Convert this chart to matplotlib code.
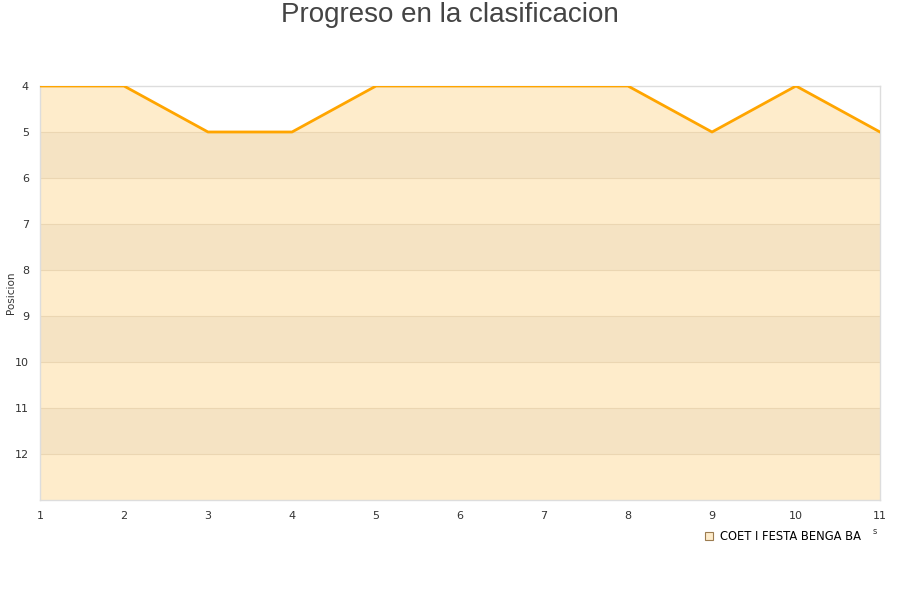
import numpy as np
import matplotlib
matplotlib.use('Agg')
import matplotlib.pyplot as plt
from matplotlib.lines import Line2D

# jornadas y posicion
jornadas = [1, 2, 3, 4, 5, 6, 7, 8, 9, 10, 11]
posicion = [4, 4, 5, 5, 4, 4, 4, 4, 5, 4, 5]
equipo = 'COET I FESTA BENGA BA'
y_ticks = [4, 5, 6, 7, 8, 9, 10, 11, 12]

fill_light = '#FEECCB'
band_dark = '#F5E3C3'
line_col = '#FFA500'

fig = plt.figure(figsize=(9, 6), dpi=100)
ax = fig.add_axes([40/900, 1-500/600, 840/900, 414/600])

# fill under the line (down to the bottom of the plot)
ax.fill_between(jornadas, posicion, 13, color=fill_light, zorder=1, linewidth=0)
# darker bands every other row
for lo in range(5, 13, 2):
    ax.fill_between(jornadas, np.maximum(posicion, lo), np.maximum(posicion, lo + 1),
                    color=band_dark, zorder=1.5, linewidth=0)
for yv in range(5, 13):
    ax.axhline(yv, color='#EBD6B2', linewidth=0.8, zorder=2)

ax.plot(jornadas, posicion, color=line_col, linewidth=2, zorder=3)

ax.set_xlim(1, 11)
ax.set_ylim(13, 4)
ax.set_xticks(jornadas)
ax.set_yticks(y_ticks)
ax.tick_params(length=0, labelsize=8, colors='#333333', pad=8)
ax.tick_params(axis='y', pad=8)
for s in ax.spines.values():
    s.set_color('#DDDDDD')
    s.set_linewidth(1)

fig.text(11/900, 1-293/600, 'Posicion', rotation=90, ha='center', va='center',
         fontsize=7.5, color='#333333')

fig.text(0.5, 1-15/600, 'Progreso en la clasificacion', ha='center', va='center',
         fontsize=20, color='#444444', family='Liberation Sans')

handle = Line2D([], [], linestyle='none', marker='s', markersize=6,
                markerfacecolor=fill_light, markeredgecolor='#9C7C50', markeredgewidth=0.8)
leg = fig.legend([handle], [equipo], loc='center left', bbox_to_anchor=(703/900, 1-537/600),
                 frameon=False, fontsize=8.3, handletextpad=0.5, handlelength=1.0,
                 borderpad=0, borderaxespad=0)
fig.text(875/900, 1-532/600, 's', fontsize=6, color='#333333', ha='center', va='center')

fig.savefig('out.png', dpi=100)
